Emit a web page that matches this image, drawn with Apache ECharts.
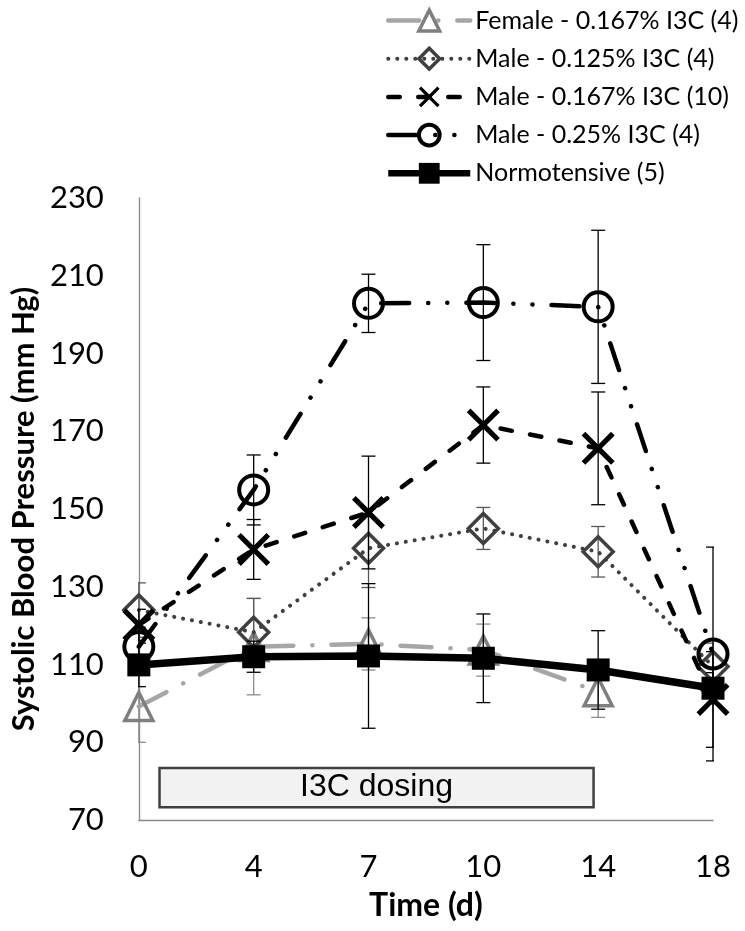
<!DOCTYPE html>
<html><head><meta charset="utf-8">
<script src="https://cdn.jsdelivr.net/npm/echarts@6/dist/echarts.min.js"></script>
<style>html,body{margin:0;padding:0;background:#fff}#c{width:745px;height:931px}</style>
</head><body><div id="c"></div>
<script>
// ---- data ----
const days = ['0','4','7','10','14','18'];
const yTicks = [70,90,110,130,150,170,190,210,230];
const female   = [99.2, 114.6, 115.3, 113.7, 103.0, null];
const femaleErr= [9.2, 12.4, 6.7, 6.7, 6.6, null];
const male125   = [124.0, 118.3, 139.9, 145.0, 139.0, 109.5];
const male125Err= [7.0, 8.7, 10.1, 5.4, 6.5, 6.0];
const male167   = [120.2, 139.6, 149.1, 171.6, 165.6, 101.0];
const male167Err= [4.0, 7.7, 14.5, 9.8, 14.5, 12.3];
const male25    = [114.6, 154.9, 202.9, 203.1, 202.0, 112.7];
const male25Err = [5.0, 9.0, 7.5, 14.9, 19.7, 27.5];
const normo     = [109.9, 112.0, 112.2, 111.6, 108.6, 103.9];
const normoErr  = [5.6, 4.0, 18.6, 11.4, 10.1, 4.0];
const names = ['Female - 0.167% I3C (4)','Male - 0.125% I3C (4)','Male - 0.167% I3C (10)','Male - 0.25% I3C (4)','Normotensive (5)'];
const dosingLabel = 'I3C dosing';
const dosing = {startIdx: 0.18, endIdx: 3.96, low: 73.3, high: 83.4};

const X_PATH = 'path://M0,1.1 L1.1,0 L5,3.9 L8.9,0 L10,1.1 L6.1,5 L10,8.9 L8.9,10 L5,6.1 L1.1,10 L0,8.9 L3.9,5 Z';
const FONT = 'Lato';

function errSeries(vals, errs, color, z) {
  const data = [];
  vals.forEach((v, i) => { if (v != null && errs[i] != null) data.push([i, v - errs[i], v + errs[i]]); });
  return {
    type: 'custom', z: z, silent: true, clip: true,
    encode: {x: 0, y: [1, 2]},
    data: data,
    renderItem: function (params, api) {
      const x = api.value(0);
      const lo = api.coord([x, api.value(1)]);
      const hi = api.coord([x, api.value(2)]);
      const hw = 7;
      const st = {stroke: color, lineWidth: 1.3};
      return {type: 'group', children: [
        {type: 'line', shape: {x1: lo[0], y1: lo[1], x2: hi[0], y2: hi[1]}, style: st},
        {type: 'line', shape: {x1: lo[0] - hw, y1: lo[1], x2: lo[0] + hw, y2: lo[1]}, style: st},
        {type: 'line', shape: {x1: hi[0] - hw, y1: hi[1], x2: hi[0] + hw, y2: hi[1]}, style: st}
      ]};
    }
  };
}

const styles = [
  {line: {color: '#a6a6a6', width: 4.5, type: [31, 19, 0.1, 19], cap: 'round'},
   symbol: 'triangle', size: 28, item: {color: 'rgba(0,0,0,0)', borderColor: '#7f7f7f', borderWidth: 3.5}, err: '#8c8c8c'},
  {line: {color: '#404040', width: 4, type: [0.1, 8.9], cap: 'round'},
   symbol: 'diamond', size: 30, item: {color: 'rgba(0,0,0,0)', borderColor: '#404040', borderWidth: 3.5}, err: '#595959'},
  {line: {color: '#000', width: 4.5, type: [11.5, 18.5], cap: 'round'},
   symbol: X_PATH, size: 33, item: {color: '#000'}, err: '#000'},
  {line: {color: '#000', width: 4.5, type: [28, 19, 0.1, 19, 0.1, 19], cap: 'round'},
   symbol: 'circle', size: 29, item: {color: 'rgba(0,0,0,0)', borderColor: '#000', borderWidth: 4}, err: '#000'},
  {line: {color: '#000', width: 7.5, type: 'solid'},
   symbol: 'rect', size: 23, item: {color: '#000'}, err: '#000'}
];
const vals = [female, male125, male167, male25, normo];
const errs = [femaleErr, male125Err, male167Err, male25Err, normoErr];

const series = [];
vals.forEach((v, k) => {
  const s = styles[k];
  series.push(errSeries(v, errs[k], s.err, 2 + k * 2));
  series.push({
    type: 'line', name: names[k], data: v, z: 3 + k * 2,
    symbol: s.symbol, symbolSize: s.size, showAllSymbol: true,
    lineStyle: s.line, itemStyle: s.item, clip: false, connectNulls: false,
    emphasis: {disabled: true}, animation: false
  });
});

const chart = echarts.init(document.getElementById('c'), null, {renderer: 'canvas'});
chart.setOption({
  animation: false,
  backgroundColor: '#fff',
  grid: {left: 137, right: 32, top: 198, bottom: 111, containLabel: false},
  legend: {
    orient: 'vertical', left: 380, top: 3, itemWidth: 82, itemHeight: 26, itemGap: 13.2,
    textStyle: {fontFamily: FONT, fontSize: 25, color: '#000', lineHeight: 24},
    data: names.map((n, k) => ({
      name: n,
      lineStyle: {width: Math.min(styles[k].line.width, 6.5), type: styles[k].line.type, cap: styles[k].line.cap || 'butt'},
      itemStyle: {borderWidth: styles[k].item.borderWidth || 0}
    })),
    selectedMode: false
  },
  xAxis: {
    type: 'category', data: days, boundaryGap: false,
    name: 'Time (d)', nameLocation: 'middle', nameGap: 70,
    nameTextStyle: {fontFamily: FONT, fontSize: 32, fontWeight: 'bold', color: '#000'},
    axisLine: {lineStyle: {color: '#898989', width: 1.3}},
    axisTick: {show: false},
    axisLabel: {fontFamily: FONT, fontSize: 31, color: '#000', margin: 31},
    splitLine: {show: false}
  },
  yAxis: {
    type: 'value', min: 70, max: 230, interval: 10,
    name: 'Systolic Blood Pressure (mm Hg)', nameLocation: 'middle', nameGap: 72,
    nameTextStyle: {fontFamily: FONT, fontSize: 31, fontWeight: 'bold', color: '#000'},
    axisLine: {show: true, lineStyle: {color: '#898989', width: 1.3}},
    axisTick: {show: false},
    axisLabel: {fontFamily: FONT, fontSize: 31, color: '#000', margin: 35,
      formatter: v => yTicks.includes(v) ? String(v) : ''},
    splitLine: {show: false}
  },
  series: series
});

const px = i => chart.convertToPixel({xAxisIndex: 0}, i);
const py = v => chart.convertToPixel({yAxisIndex: 0}, v);
const step = px(1) - px(0);
const bx1 = px(0) + dosing.startIdx * step, bx2 = px(0) + dosing.endIdx * step;
const by1 = py(dosing.high), by2 = py(dosing.low);
chart.setOption({
  graphic: [
    {type: 'rect', z: 1, shape: {x: bx1, y: by1, width: bx2 - bx1, height: by2 - by1},
     style: {fill: '#f2f2f2', stroke: '#404040', lineWidth: 2.5}},
    {type: 'text', z: 2, x: (bx1 + bx2) / 2, y: (by1 + by2) / 2,
     style: {text: dosingLabel, fontFamily: 'Liberation Sans', fontSize: 32, fill: '#000', align: 'center', verticalAlign: 'middle'}}
  ]
});
</script>
</body></html>
